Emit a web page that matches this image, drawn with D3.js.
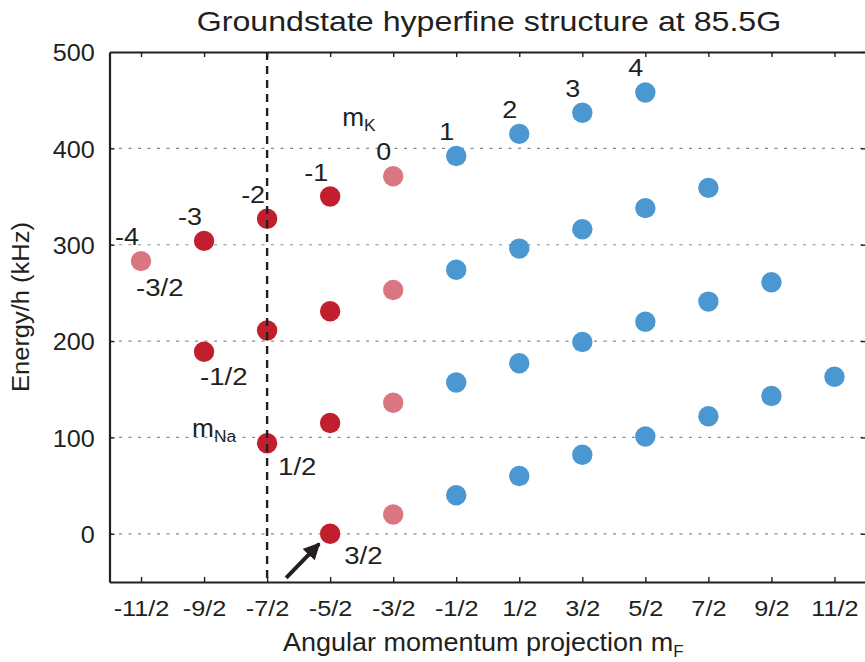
<!DOCTYPE html>
<html><head><meta charset="utf-8">
<script src="https://cdn.jsdelivr.net/npm/d3@7"></script>
<style>
body{margin:0;background:#fff}
svg text{font-family:"Liberation Sans",Arial,Helvetica,sans-serif;fill:#231f20}
</style>
</head><body>
<svg id="c" width="865" height="662"></svg>
<script>
// ---------- data ----------
const xTickValues = [-5.5,-4.5,-3.5,-2.5,-1.5,-0.5,0.5,1.5,2.5,3.5,4.5,5.5];
const xTickLabels = ["-11/2","-9/2","-7/2","-5/2","-3/2","-1/2","1/2","3/2","5/2","7/2","9/2","11/2"];
const yTickValues = [0,100,200,300,400,500];
const gridValues = [0,100,200,300,400];

// dark red states
const redMF = [-4.5,-4.5,-3.5,-3.5,-3.5,-2.5,-2.5,-2.5,-2.5];
const redE  = [304,189,327,211,94,350,231,115,0];
// light red states
const pinkMF = [-5.5,-1.5,-1.5,-1.5,-1.5];
const pinkE  = [283,371,253,136,20];
// blue states
const blueMF = [-0.5,-0.5,-0.5,-0.5, 0.5,0.5,0.5,0.5, 1.5,1.5,1.5,1.5, 2.5,2.5,2.5,2.5, 3.5,3.5,3.5, 4.5,4.5, 5.5];
const blueE  = [392,274,157,40, 415,296,177,60, 437,316,199,82, 458,338,220,101, 359,241,122, 261,143, 163];

// m_K labels, attached to the top state of each column
const mKLabels = ["-4","-3","-2","-1","0","1","2","3","4"];
const mKAnchorMF = [-5.5,-4.5,-3.5,-2.5,-1.5,-0.5,0.5,1.5,2.5];
const mKAnchorE  = [283,304,327,350,371,392,415,437,458];
// m_Na labels, attached to the states of the left branch
const mNaLabels = ["-3/2","-1/2","1/2","3/2"];
const mNaAnchorMF = [-5.5,-4.5,-3.5,-2.5];
const mNaAnchorE  = [283,189,94,0];
const dashedMF = -3.5;
const titleText = "Groundstate hyperfine structure at 85.5G";

// ---------- layout ----------
const x = d3.scaleLinear().domain([-6,6]).range([109.5,866]);
const y = d3.scaleLinear().domain([-50,500]).range([582,52]);
const ink = "#231f20";
const colRed = "#c11f2e", colPink = "#da7680", colBlue = "#4a97d2";
const svg = d3.select("#c");

function scaledText(parent, tx, ty, str, size, anchor, sx, rot){
  const g = parent.append("g").attr("transform", `translate(${tx},${ty})` + (rot ? ` rotate(${rot})` : ""));
  const t = g.append("text").attr("font-size", size).attr("text-anchor", anchor).text(str);
  t.attr("transform", `scale(${sx},1)`);
  return t;
}
function fitText(parent, tx, ty, size, anchor, width, rot, build){
  const g = parent.append("g").attr("transform", `translate(${tx},${ty})` + (rot ? ` rotate(${rot})` : ""));
  const t = g.append("text").attr("font-size", size).attr("text-anchor", anchor);
  build(t);
  const bw = t.node().getBBox().width;
  t.attr("transform", `scale(${width/bw},1)`);
  return t;
}

// gridlines
svg.append("g").selectAll("line").data(gridValues).join("line")
  .attr("x1", x(-6)).attr("x2", x(6))
  .attr("y1", d => y(d)).attr("y2", d => y(d))
  .attr("stroke", "#8a8a8a").attr("stroke-width", 1.2).attr("stroke-dasharray", "3,6.5");

// points
function drawPts(mf, e, col){
  svg.append("g").selectAll("circle").data(mf.map((m,i)=>({m, e:e[i]}))).join("circle")
    .attr("cx", d => x(d.m)).attr("cy", d => y(d.e)).attr("r", 10.2).attr("fill", col);
}
drawPts(pinkMF, pinkE, colPink);
drawPts(redMF, redE, colRed);
drawPts(blueMF, blueE, colBlue);

// dashed vertical line
svg.append("line").attr("x1", x(dashedMF)).attr("x2", x(dashedMF))
  .attr("y1", y(500)).attr("y2", y(-50))
  .attr("stroke", ink).attr("stroke-width", 2.4).attr("stroke-dasharray", "8,6");

// axes
function styleAxis(g){
  g.select(".domain").attr("stroke", ink).attr("stroke-width", 2.2);
  g.selectAll(".tick line").attr("stroke", ink).attr("stroke-width", 1.4);
}
const gx = svg.append("g").attr("transform", `translate(0,${y(-50)})`)
  .call(d3.axisBottom(x).tickValues(xTickValues).tickFormat((d,i)=>xTickLabels[i])
        .tickSizeInner(-5).tickSizeOuter(0).tickPadding(18));
styleAxis(gx);
gx.selectAll(".tick text").attr("font-size", 22).attr("fill", ink)
  .attr("font-family", '"Liberation Sans",Arial,sans-serif').attr("transform", "scale(1.15,1)");

const gt = svg.append("g").attr("transform", `translate(0,${y(500)})`)
  .call(d3.axisTop(x).tickValues(xTickValues).tickFormat("").tickSizeInner(-5).tickSizeOuter(0));
styleAxis(gt);

const gy = svg.append("g").attr("transform", `translate(${x(-6)},0)`)
  .call(d3.axisLeft(y).tickValues(yTickValues).tickSizeInner(-5).tickSizeOuter(0).tickPadding(14));
styleAxis(gy);
gy.selectAll(".tick text").attr("font-size", 24).attr("fill", ink).attr("dy", "0.36em")
  .attr("font-family", '"Liberation Sans",Arial,sans-serif').attr("transform", "scale(1.05,1)");
gy.selectAll(".tick").filter(d => d === 500).select("line").remove();

const gr = svg.append("g").attr("transform", `translate(${x(6)},0)`)
  .call(d3.axisRight(y).tickValues(yTickValues).tickFormat("").tickSizeInner(-5).tickSizeOuter(0));
styleAxis(gr);

// m_K labels
mKLabels.forEach((s,i) => {
  scaledText(svg, x(mKAnchorMF[i]) - 2, y(mKAnchorE[i]) - 16, s, 24.5, "end", 1.1);
});
// m_Na labels
const naOff = [[-5,35],[-4,33],[11,32],[14,30]];
mNaLabels.forEach((s,i) => {
  scaledText(svg, x(mNaAnchorMF[i]) + naOff[i][0], y(mNaAnchorE[i]) + naOff[i][1], s, 24, "start", 1.15);
});

// m_K and m_Na headings
function subLabel(tx, ty, main, sub){
  const g = svg.append("g").attr("transform", `translate(${tx},${ty})`);
  const t = g.append("text").attr("font-size", 25).attr("text-anchor", "start");
  t.append("tspan").text(main);
  t.append("tspan").attr("font-size", 16.5).attr("dy", 5).text(sub);
  t.attr("transform", "scale(1.05,1)");
}
subLabel(x(-2.5) + 12, y(423), "m", "K");
subLabel(x(-3.5) - 75, y(100), "m", "Na");

// arrow to ground state
const ax0 = x(-2.5), ay0 = y(0);
svg.append("defs").append("marker").attr("id", "ah")
  .attr("viewBox", "0 0 10 10").attr("refX", 9).attr("refY", 5)
  .attr("markerWidth", 4.2).attr("markerHeight", 4.2).attr("orient", "auto")
  .attr("markerUnits", "strokeWidth")
  .append("path").attr("d", "M0,0 L10,5 L0,10 Z").attr("fill", ink);
svg.append("line").attr("x1", ax0 - 44).attr("y1", ay0 + 44)
  .attr("x2", ax0 - 11).attr("y2", ay0 + 10)
  .attr("stroke", ink).attr("stroke-width", 4).attr("marker-end", "url(#ah)");

// title
fitText(svg, 489, 31, 28.5, "middle", 585, 0, t => t.text(titleText));
// x label
fitText(svg, 283, 651, 25.5, "start", 401, 0, t => {
  t.append("tspan").text("Angular momentum projection m");
  t.append("tspan").attr("font-size", 16).attr("dy", 6).text("F");
});
// y label
fitText(svg, 29, 307, 23.5, "middle", 170, -90, t => t.text("Energy/h (kHz)"));
</script>
</body></html>
